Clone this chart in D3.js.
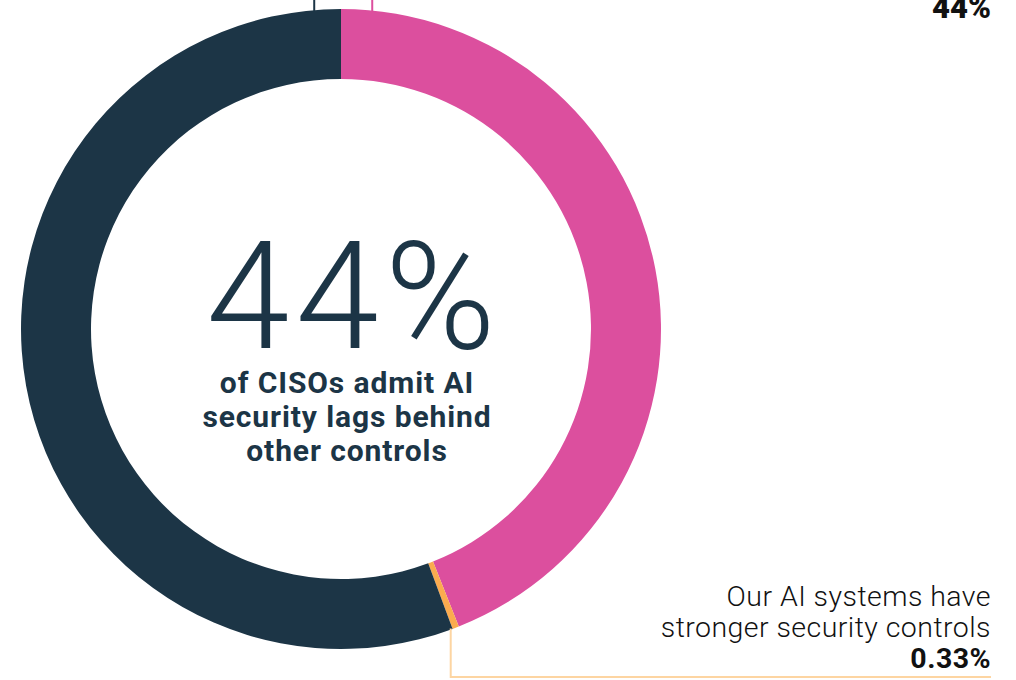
<!DOCTYPE html>
<html>
<head>
<meta charset="utf-8">
<script src="https://cdn.jsdelivr.net/npm/d3@7"></script>
<style>
  html, body { margin: 0; padding: 0; background: #ffffff; }
  svg { display: block; }
  text { font-family: Roboto, "Noto Sans", sans-serif; }
</style>
</head>
<body>
<svg id="chart" width="1016" height="680"></svg>
<script>
// Survey answers, share of CISOs (percent)
const categories = [
  "AI security lags behind other controls",
  "Our AI systems have stronger security controls",
  "AI security is on par with other controls"
];
const shares = [44, 0.33, 55.67];
const sliceColors = ["#dc4f9e", "#fbab4f", "#1c3546"];

const headline = "44%";
const headlineNote = ["of CISOs admit AI", "security lags behind", "other controls"];
const strongerLabel = ["Our AI systems have", "stronger security controls"];
const strongerValue = "0.33%";
const lagValue = "44%";

const W = 1016, H = 680;
const cx = 341, cy = 329;
const rOuter = 320, rInner = 250;

const svg = d3.select("#chart");
const g = svg.append("g").attr("transform", `translate(${cx},${cy})`);

const pie = d3.pie().sort(null).value(d => d.value);
const arc = d3.arc().innerRadius(rInner).outerRadius(rOuter);
const slices = pie(categories.map((c, i) => ({ name: c, value: shares[i], color: sliceColors[i] })));

g.selectAll("path.slice")
  .data(slices)
  .join("path")
  .attr("class", "slice")
  .attr("d", arc)
  .attr("fill", d => d.data.color);

// Leader lines running up off the top edge to the labels above
function topLeader(angleDeg, color) {
  const a = angleDeg * Math.PI / 180;
  const x = rOuter * Math.sin(a);
  const y = -rOuter * Math.cos(a);
  g.append("line")
    .attr("x1", x).attr("x2", x)
    .attr("y1", y + 1).attr("y2", -cy - 5)
    .attr("stroke", color).attr("stroke-width", 2);
}
topLeader(-4.8, sliceColors[2]);
topLeader(5.6, sliceColors[0]);

// Leader from the small slice down and across to its label
const small = slices[1];
const midA = (small.startAngle + small.endAngle) / 2;
const lx = rOuter * Math.sin(midA) - 5;
const ly = -Math.sqrt(rOuter * rOuter - lx * lx) * Math.sign(Math.cos(midA));
const lineY = 677 - cy;
const lineEnd = 991 - cx;
g.append("path")
  .attr("d", `M${lx},${ly - 1}V${lineY}H${lineEnd}`)
  .attr("fill", "none")
  .attr("stroke", "#fdd5a2")
  .attr("stroke-width", 2);

// Centre headline
svg.append("text")
  .attr("x", 354).attr("y", 348)
  .attr("text-anchor", "middle")
  .attr("fill", "#1c3546")
  .attr("font-size", 150)
  .attr("font-weight", 300)
  .attr("letter-spacing", 6)
  .text(headline);

svg.append("text")
  .attr("text-anchor", "middle")
  .attr("fill", "#1c3546")
  .attr("font-size", 30)
  .attr("font-weight", 700)
  .attr("letter-spacing", 0.9)
  .selectAll("tspan")
  .data(headlineNote)
  .join("tspan")
  .attr("x", 347)
  .attr("y", (d, i) => 393 + i * 34)
  .text(d => d);

// Right-hand label for the small slice
const lbl = svg.append("text")
  .attr("text-anchor", "end")
  .attr("fill", "#111111")
  .attr("font-size", 28.5)
  .attr("letter-spacing", 0.45);
lbl.selectAll("tspan.l")
  .data(strongerLabel)
  .join("tspan")
  .attr("class", "l")
  .attr("x", 991)
  .attr("y", (d, i) => 606 + i * 31)
  .attr("font-weight", 300)
  .text(d => d);
lbl.append("tspan")
  .attr("x", 991).attr("y", 668)
  .attr("font-weight", 700)
  .text(strongerValue);

// Value for the pink slice, its label sits above the frame
svg.append("text")
  .attr("x", 991).attr("y", 18)
  .attr("text-anchor", "end")
  .attr("fill", "#111111")
  .attr("font-size", 31)
  .attr("font-weight", 900)
  .text(lagValue);
</script>
</body>
</html>
